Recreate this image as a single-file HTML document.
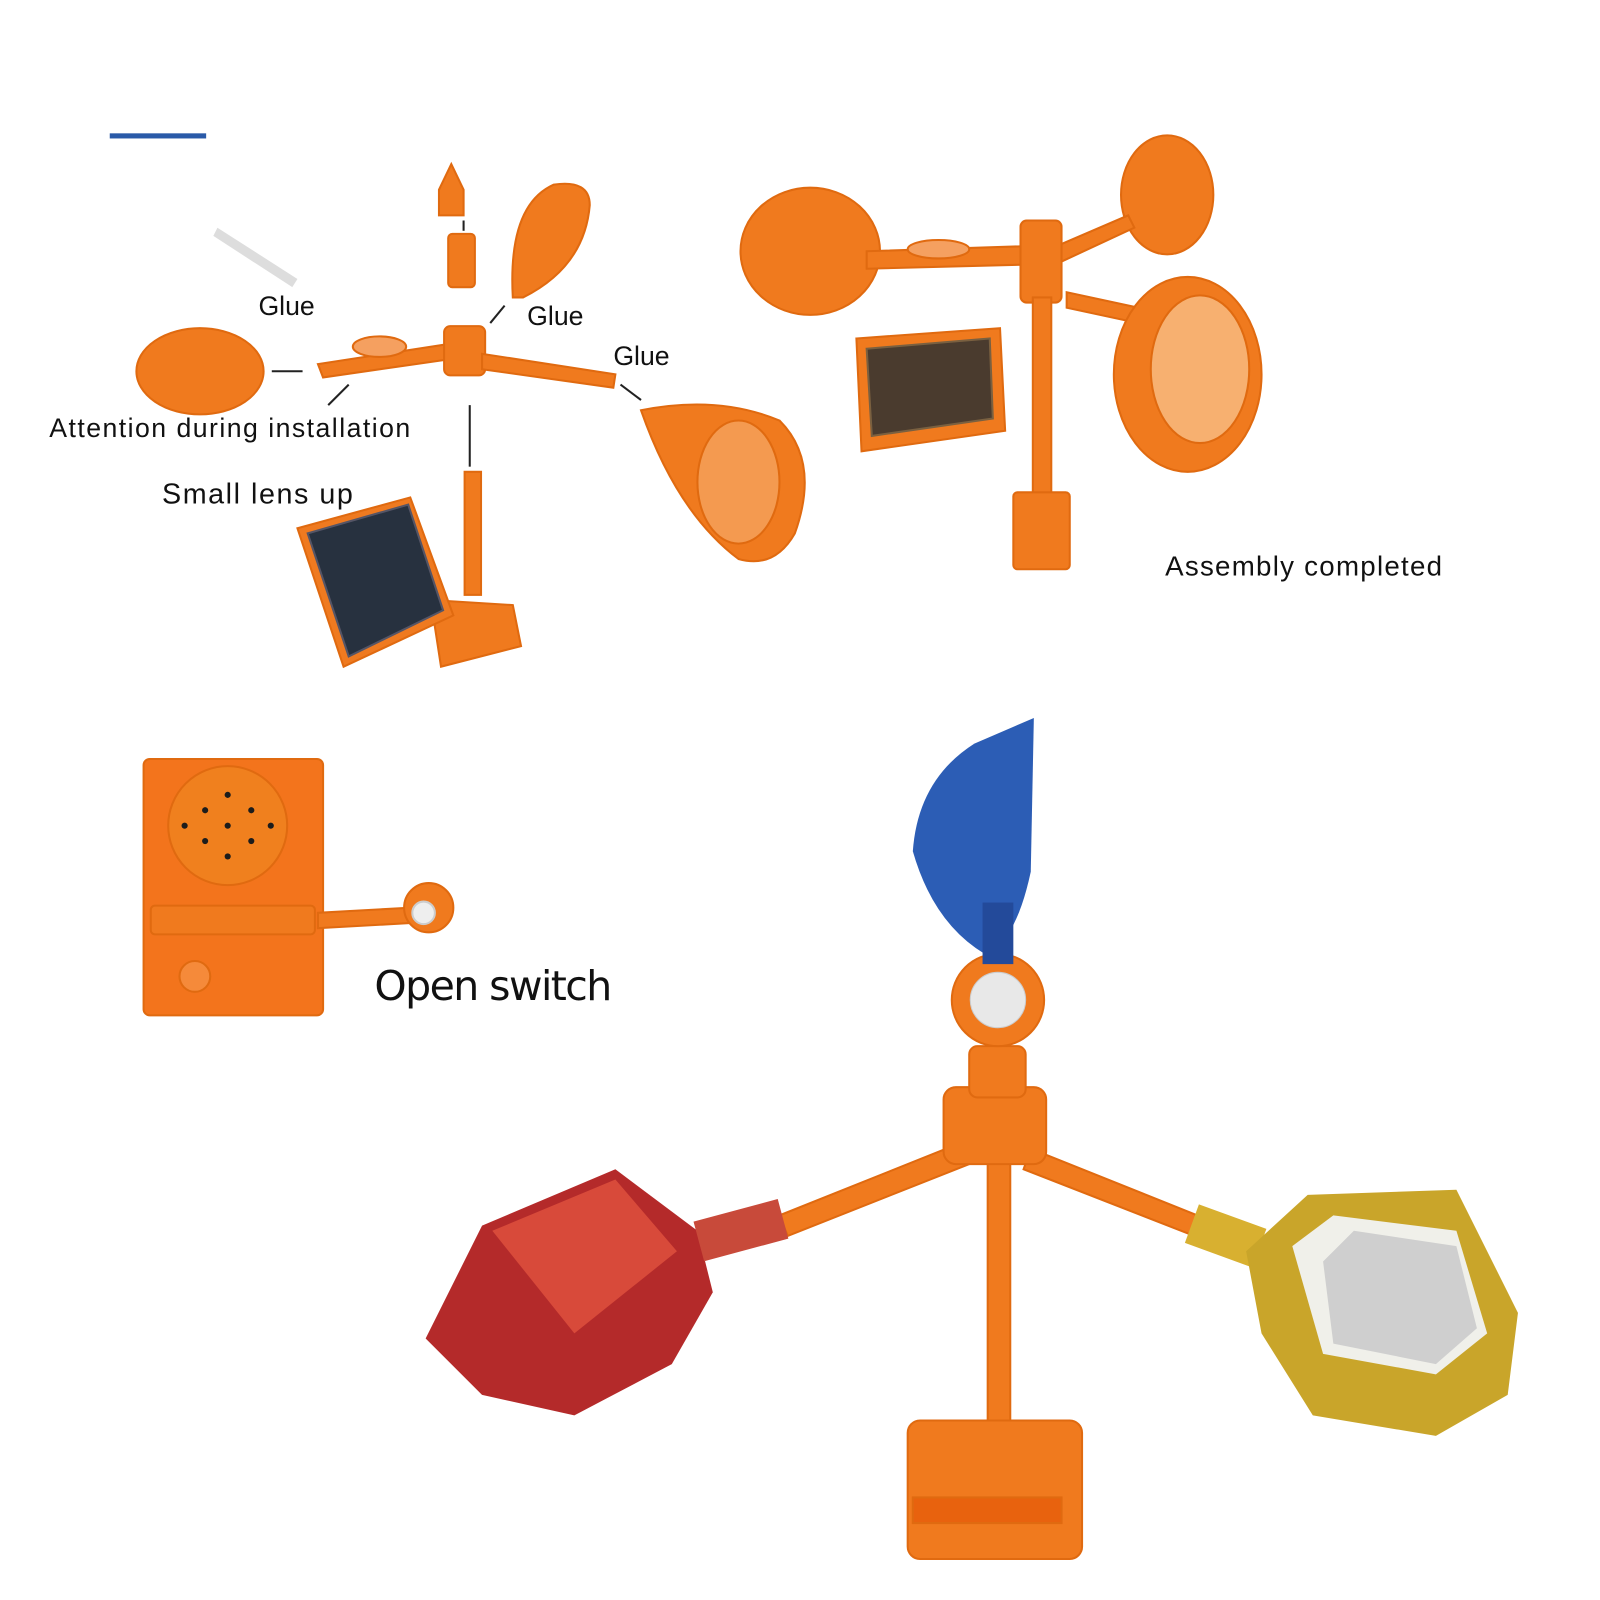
<!DOCTYPE html>
<html><head><meta charset="utf-8"><style>
html,body{margin:0;padding:0;background:#fff;}
svg{display:block}
text{font-family:"Liberation Sans",sans-serif;fill:#111}
</style></head><body>
<svg width="1600" height="1600" viewBox="0 0 1560 1560" xmlns="http://www.w3.org/2000/svg">
<rect width="1560" height="1560" fill="#fff"/>
<rect x="107" y="130" width="94" height="5" fill="#2a5aa8"/>
<g fill="#f07a1e" stroke="#e06a10" stroke-width="2">
<path d="M440 160 L452 185 L452 210 L428 210 L428 185Z"/>
<rect x="437" y="228" width="26" height="52" rx="4"/>
<path d="M500 290 Q495 200 540 180 Q575 175 575 200 Q570 260 510 290Z"/>
<ellipse cx="195" cy="362" rx="62" ry="42"/>
<path d="M310 355 L440 335 L440 350 L315 368Z"/>
<ellipse cx="370" cy="338" rx="26" ry="10" fill="#f5a060"/>
<rect x="433" y="318" width="40" height="48" rx="6"/>
<path d="M470 345 L600 365 L598 378 L470 360Z"/>
<path d="M625 400 Q700 385 760 410 Q800 450 775 520 Q755 555 720 545 Q660 500 625 400Z"/>
<ellipse cx="720" cy="470" rx="40" ry="60" fill="#f49a50"/>
<rect x="453" y="460" width="16" height="120"/>
<path d="M420 585 L500 590 L508 630 L430 650Z"/>
<path d="M290 515 L400 485 L442 600 L335 650Z" fill="#ef7a20"/>
<path d="M300 520 L398 492 L432 595 L340 640Z" fill="#27313f" stroke="#556"/>
<ellipse cx="790" cy="245" rx="68" ry="62"/>
<ellipse cx="1138" cy="190" rx="45" ry="58"/>
<path d="M845 245 L1000 240 L1000 258 L845 262Z"/>
<ellipse cx="915" cy="243" rx="30" ry="9" fill="#f5a060"/>
<path d="M1030 240 L1100 210 L1106 222 L1035 255Z"/>
<rect x="995" y="215" width="40" height="80" rx="6"/>
<rect x="1007" y="290" width="18" height="200"/>
<path d="M1040 285 L1110 300 L1110 315 L1040 300Z"/>
<ellipse cx="1158" cy="365" rx="72" ry="95"/>
<ellipse cx="1170" cy="360" rx="48" ry="72" fill="#f7b070"/>
<path d="M835 330 L975 320 L980 420 L840 440Z"/>
<path d="M845 340 L965 330 L968 408 L850 425Z" fill="#4a3b2e" stroke="#7a6040"/>
<rect x="988" y="480" width="55" height="75" rx="4"/>
<rect x="140" y="740" width="175" height="250" rx="6" fill="#f3741c"/>
<circle cx="222" cy="805" r="58" fill="#f0801e"/>
<rect x="147" y="883" width="160" height="28" rx="4"/>
<path d="M310 890 L400 885 L400 900 L310 905Z"/>
<circle cx="418" cy="885" r="24"/>
<circle cx="413" cy="890" r="11" fill="#eee" stroke="#ccc"/>
<circle cx="190" cy="952" r="15" fill="#f58a3a"/>
<rect x="963" y="1120" width="22" height="340"/>
<path d="M760 1185 L935 1115 L945 1135 L768 1205Z"/>
<path d="M1005 1120 L1180 1190 L1172 1208 L998 1140Z"/>
<rect x="920" y="1060" width="100" height="75" rx="12"/>
<rect x="945" y="1020" width="55" height="50" rx="8"/>
<circle cx="973" cy="975" r="45"/>
<rect x="885" y="1385" width="170" height="135" rx="12"/>
<rect x="890" y="1460" width="145" height="25" fill="#e8620e"/>
</g>
<g fill="#1c1c1c">
<circle cx="222" cy="805" r="3"/><circle cx="200" cy="790" r="3"/><circle cx="245" cy="790" r="3"/><circle cx="200" cy="820" r="3"/><circle cx="245" cy="820" r="3"/><circle cx="222" cy="775" r="3"/><circle cx="222" cy="835" r="3"/><circle cx="180" cy="805" r="3"/><circle cx="264" cy="805" r="3"/>
</g>
<circle cx="973" cy="975" r="27" fill="#e8e8e8" stroke="#ccc"/>
<path d="M1008 700 L1005 850 Q990 920 960 930 Q910 900 890 830 Q895 760 950 725Z" fill="#2c5db5"/>
<rect x="958" y="880" width="30" height="60" fill="#234a9a"/>
<path d="M415 1305 L470 1195 L600 1140 L680 1200 L695 1260 L655 1330 L560 1380 L470 1360Z" fill="#b42a2a"/>
<path d="M480 1200 L600 1150 L660 1220 L560 1300Z" fill="#d84a3a"/>
<rect x="680" y="1180" width="85" height="40" fill="#c84a3a" transform="rotate(-15 720 1200)"/>
<rect x="1160" y="1185" width="70" height="40" fill="#d8b030" transform="rotate(20 1195 1205)"/>
<path d="M1215 1220 L1275 1165 L1420 1160 L1480 1280 L1470 1360 L1400 1400 L1280 1380 L1230 1300Z" fill="#c9a52a"/>
<path d="M1260 1215 L1300 1185 L1420 1200 L1450 1300 L1400 1340 L1290 1320Z" fill="#f0f0ea"/>
<path d="M1290 1230 L1320 1200 L1420 1215 L1440 1295 L1400 1330 L1300 1310Z" fill="#cfcfcf"/>
<path d="M212 222 L290 272 L285 280 L208 230Z" fill="#ddd"/>
<g stroke="#222" stroke-width="2">
<line x1="265" y1="362" x2="295" y2="362"/>
<line x1="320" y1="395" x2="340" y2="375"/>
<line x1="458" y1="395" x2="458" y2="455"/>
<line x1="478" y1="315" x2="492" y2="298"/>
<line x1="605" y1="375" x2="625" y2="390"/>
<line x1="452" y1="215" x2="452" y2="225"/>
</g>
<text x="252" y="307" font-size="26">Glue</text>
<text x="514" y="317" font-size="26">Glue</text>
<text x="598" y="356" font-size="26">Glue</text>
<text x="48" y="426" font-size="26" textLength="352">Attention during installation</text>
<text x="158" y="491" font-size="28" textLength="186">Small lens up</text>
<text x="1136" y="561" font-size="27" textLength="270">Assembly completed</text>
<text x="365" y="975" font-size="40" textLength="232" style="font-family:'DejaVu Sans',sans-serif">Open switch</text>
</svg>
</body></html>
